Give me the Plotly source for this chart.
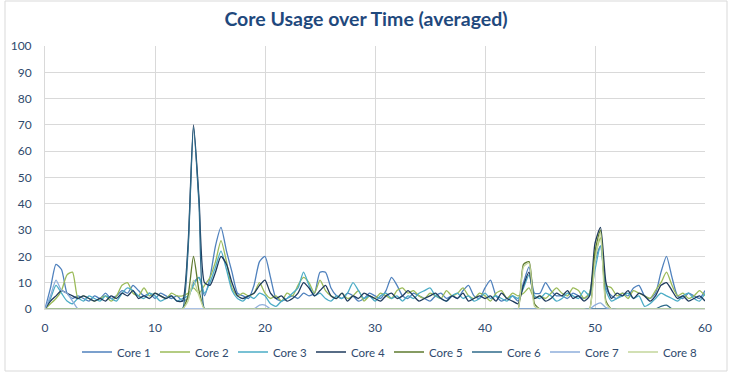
import plotly.graph_objects as go

# time axis (seconds), sampled every 0.5
time = [i * 0.5 for i in range(121)]

core1 = [0, 8, 17, 15, 6, 4, 5, 4, 3, 5,
         4, 6, 4, 5, 7, 6, 9, 7, 5, 6,
         4, 6, 5, 4, 5, 3, 4, 10, 12, 5,
         12, 24, 31, 22, 14, 6, 5, 4, 9, 18,
         20, 12, 4, 3, 4, 5, 4, 6, 5, 6,
         14, 14, 8, 5, 4, 6, 5, 3, 4, 6,
         5, 4, 7, 12, 9, 5, 4, 6, 5, 4,
         3, 5, 6, 4, 5, 4, 7, 9, 5, 4,
         8, 11, 5, 3, 4, 5, 3, 10, 16, 6,
         6, 10, 7, 5, 5, 4, 6, 5, 4, 6,
         18, 24, 8, 5, 4, 6, 5, 8, 9, 5,
         4, 6, 14, 20, 12, 5, 4, 6, 5, 4,
         7]
core2 = [0, 2, 4, 7, 13, 14, 4, 5, 4, 3,
         4, 5, 3, 5, 9, 10, 6, 5, 8, 5,
         6, 5, 4, 6, 5, 5, 6, 8, 6, 9,
         12, 18, 26, 18, 8, 5, 6, 5, 6, 10,
         6, 4, 5, 3, 6, 5, 9, 12, 10, 6,
         11, 7, 5, 4, 6, 4, 5, 7, 3, 5,
         4, 6, 5, 4, 7, 8, 6, 7, 5, 4,
         6, 5, 4, 7, 5, 6, 8, 5, 4, 6,
         5, 3, 6, 7, 4, 6, 5, 6, 8, 4,
         5, 4, 6, 8, 6, 5, 8, 7, 4, 6,
         20, 27, 9, 8, 5, 6, 4, 7, 6, 5,
         4, 7, 10, 14, 9, 5, 6, 4, 5, 7,
         5]
core3 = [0, 4, 9, 6, 3, 2, 4, 3, 5, 4,
         3, 5, 4, 3, 6, 8, 7, 5, 4, 6,
         5, 3, 4, 5, 3, 4, 5, 9, 12, 6,
         10, 16, 22, 15, 7, 4, 3, 5, 4, 6,
         5, 2, 1, 3, 4, 6, 8, 14, 9, 5,
         6, 4, 3, 5, 4, 6, 10, 7, 4, 5,
         3, 5, 6, 4, 5, 3, 5, 4, 6, 7,
         8, 5, 4, 3, 5, 6, 4, 5, 3, 4,
         6, 4, 5, 4, 3, 5, 4, 8, 13, 5,
         4, 6, 5, 3, 4, 6, 5, 4, 7, 5,
         15, 24, 7, 3, 4, 5, 6, 4, 5, 1,
         2, 4, 6, 5, 4, 3, 5, 6, 4, 3,
         6]
core4 = [0, 3, 5, 7, 6, 5, 4, 5, 4, 3,
         4, 3, 5, 4, 6, 5, 7, 4, 5, 4,
         6, 5, 4, 5, 3, 3, 24, 70, 42, 10,
         9, 14, 20, 17, 10, 5, 4, 5, 6, 9,
         11, 6, 4, 5, 3, 4, 6, 10, 8, 5,
         7, 9, 5, 4, 6, 3, 5, 4, 6, 5,
         4, 3, 5, 6, 4, 5, 7, 5, 3, 4,
         5, 6, 4, 3, 5, 4, 6, 3, 4, 5,
         4, 5, 3, 6, 4, 3, 2, 9, 14, 4,
         5, 3, 4, 6, 5, 7, 4, 5, 3, 5,
         25, 31, 10, 4, 6, 5, 7, 4, 6, 5,
         3, 5, 9, 10, 7, 4, 5, 3, 4, 5,
         3]
core5 = [0, 0, 0, 0, 0, 0, 0, 0, 0, 0,
         0, 0, 0, 0, 0, 0, 0, 0, 0, 0,
         0, 0, 0, 0, 0, 0, 5, 20, 7, 0,
         0, 0, 0, 0, 0, 0, 0, 0, 0, 0,
         0, 0, 0, 0, 0, 0, 0, 0, 0, 0,
         0, 0, 0, 0, 0, 0, 0, 0, 0, 0,
         0, 0, 0, 0, 0, 0, 0, 0, 0, 0,
         0, 0, 0, 0, 0, 0, 0, 0, 0, 0,
         0, 0, 0, 0, 0, 0, 0, 17, 18, 2,
         0, 0, 0, 0, 0, 0, 0, 0, 0, 0,
         22, 30, 3, 0, 0, 0, 0, 0, 0, 0,
         0, 0, 0, 0, 0, 0, 0, 0, 0, 0,
         0]
core6 = [0, 0, 0, 0, 0, 0, 0, 0, 0, 0,
         0, 0, 0, 0, 0, 0, 0, 0, 0, 0,
         0, 0, 0, 0, 0, 0, 22, 69, 40, 0,
         0, 0, 0, 0, 0, 0, 0, 0, 0, 0,
         0, 0, 0, 0, 0, 0, 0, 0, 0, 0,
         0, 0, 0, 0, 0, 0, 0, 0, 0, 0,
         0, 0, 0, 0, 0, 0, 0, 0, 0, 0,
         0, 0, 0, 0, 0, 0, 0, 0, 0, 0,
         0, 0, 0, 0, 0, 0, 0, 0, 0, 0,
         0, 0, 0, 0, 0, 0, 0, 0, 0, 0,
         0, 0, 0, 0, 0, 0, 0, 0, 0, 0,
         0, 0, 1, 1.5, 0, 0, 0, 0, 0, 0,
         0]
core7 = [0, 5, 11, 7, 6, 3, 0, 0, 0, 0,
         0, 0, 0, 0, 0, 0, 0, 0, 0, 0,
         0, 0, 0, 0, 0, 0, 0, 0, 0, 0,
         0, 0, 0, 0, 0, 0, 0, 0, 0, 1.5,
         1.5, 0, 0, 0, 0, 0, 0, 0, 0, 0,
         0, 0, 0, 0, 0, 0, 0, 0, 0, 0,
         0, 0, 0, 0, 0, 0, 0, 0, 0, 0,
         0, 0, 0, 0, 0, 0, 0, 0, 0, 0,
         0, 0, 0, 0, 0, 0, 0, 0, 0, 0,
         0, 0, 0, 0, 0, 0, 0, 0, 0, 0,
         1.5, 2.3, 0.5, 0, 0, 0, 0, 0, 0, 0,
         0, 0, 0, 0, 0, 0, 0, 0, 0, 0,
         0]
core8 = [0, 0, 0, 0, 0, 0, 0, 0, 0, 0,
         0, 0, 0, 0, 0, 0, 0, 0, 0, 0,
         0, 0, 0, 0, 0, 0, 3, 11, 5, 0,
         0, 0, 0, 0, 0, 0, 0, 0, 0, 0,
         0, 0, 0, 0, 0, 0, 0, 0, 0, 0,
         0, 0, 0, 0, 0, 0, 0, 0, 0, 0,
         0, 0, 0, 0, 0, 0, 0, 0, 0, 0,
         0, 0, 0, 0, 0, 0, 0, 0, 0, 0,
         0, 0, 0, 0, 0, 0, 0, 16, 17.5, 1,
         0, 0, 0, 0, 0, 0, 0, 0, 0, 0,
         18, 29, 2, 0, 0, 0, 0, 0, 0, 0,
         0, 0, 0, 0, 0, 0, 0, 0, 0, 0,
         0]

series_names = ["Core 1", "Core 2", "Core 3", "Core 4",
                "Core 5", "Core 6", "Core 7", "Core 8"]
series_values = [core1, core2, core3, core4, core5, core6, core7, core8]
colors = ["#4F81BD", "#9BBB59", "#4BACC6", "#1F3B5E",
          "#5E7A2E", "#2E6A8A", "#8EAEDB", "#C3D69B"]

x_ticks = [0, 10, 20, 30, 40, 50, 60]
y_ticks = [0, 10, 20, 30, 40, 50, 60, 70, 80, 90, 100]

TXT = "#2F4A6D"
FONT = "Lato"

fig = go.Figure()
for name, vals, col in zip(series_names, series_values, colors):
    fig.add_trace(go.Scatter(
        x=time, y=vals, name=name, mode="lines",
        line=dict(color=col, width=1.3, shape="spline", smoothing=0.6),
    ))

# plot area: left 45, right 705, top 46, bottom 309 (px)
L, R, T, B = 45, 30, 46, 69
W, H = 735, 378
pw, ph = W - L - R, H - T - B

fig.update_layout(
    width=W, height=H,
    margin=dict(l=L, r=R, t=T, b=B, autoexpand=False),
    paper_bgcolor="white", plot_bgcolor="white",
    font=dict(family=FONT, color=TXT, size=12),
    title=dict(text="<b>Core Usage over Time (averaged)</b>",
               x=366 / W, xanchor="center", xref="container",
               y=1 - 19 / H, yanchor="middle", yref="container",
               font=dict(family=FONT, size=19.5, color="#1F497D")),
    showlegend=True,
    legend=dict(orientation="h", x=(77 - L) / pw, xanchor="left",
                y=(309 - 352) / ph, yanchor="middle",
                entrywidth=33, entrywidthmode="pixels",
                itemwidth=30, font=dict(family=FONT, size=11.5, color=TXT),
                bgcolor="rgba(0,0,0,0)", tracegroupgap=0),
    xaxis=dict(range=[0, 60], tickvals=x_ticks, showgrid=True,
               gridcolor="#D9D9D9", gridwidth=1, zeroline=False,
               showline=True, linecolor="#D9D9D9", linewidth=1,
               ticks="", ticklabelstandoff=8,
               tickfont=dict(family=FONT, size=12, color=TXT), fixedrange=True),
    yaxis=dict(range=[0, 100], tickvals=y_ticks, showgrid=True,
               gridcolor="#D9D9D9", gridwidth=1, zeroline=False,
               showline=True, linecolor="#D9D9D9", linewidth=1,
               ticks="", ticklabelstandoff=10,
               tickfont=dict(family=FONT, size=12, color=TXT), fixedrange=True),
)

# outer chart frame
fig.add_shape(type="rect", xref="paper", yref="paper",
              x0=(5 - L) / pw, x1=(727 - L) / pw,
              y0=(309 - 371) / ph, y1=(309 - 1) / ph,
              line=dict(color="#D9D9D9", width=1), fillcolor="rgba(0,0,0,0)",
              layer="below")

fig.write_html("out.html",
               config={"displayModeBar": False},
               post_script="document.body.style.margin='0';"
                           "document.body.style.overflow='hidden';")
